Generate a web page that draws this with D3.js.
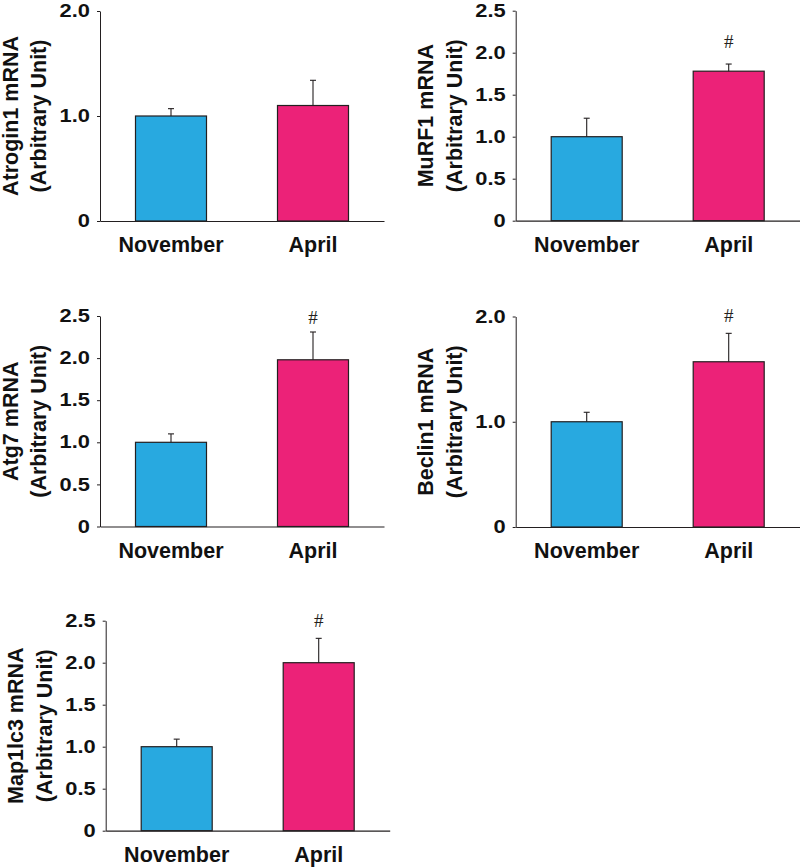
<!DOCTYPE html>
<html>
<head>
<meta charset="utf-8">
<script src="https://cdn.jsdelivr.net/npm/d3@7"></script>
<style>
  html, body { margin: 0; padding: 0; background: #fff; }
  svg { display: block; }
</style>
</head>
<body>
<svg id="chart" width="800" height="867"></svg>
<script>
// ---------- data ----------
const genes = ["Atrogin1 mRNA", "MuRF1 mRNA", "Atg7 mRNA", "Beclin1 mRNA", "Map1lc3 mRNA"];
const months = ["November", "April"];
const novemberMean = [1.00, 1.00, 1.00, 1.00, 1.00];
const novemberSE   = [0.07, 0.22, 0.10, 0.09, 0.09];
const aprilMean    = [1.10, 1.78, 1.98, 1.57, 2.00];
const aprilSE      = [0.24, 0.085, 0.33, 0.27, 0.29];
const yMax         = [2.0, 2.5, 2.5, 2.0, 2.5];
const yTicks = [
  [0, 1.0, 2.0],
  [0, 0.5, 1.0, 1.5, 2.0, 2.5],
  [0, 0.5, 1.0, 1.5, 2.0, 2.5],
  [0, 1.0, 2.0],
  [0, 0.5, 1.0, 1.5, 2.0, 2.5]
];
const sigMark  = ["", "#", "#", "#", "#"];
const sigLevel = [null, 2.05, 2.41, 1.95, 2.43];
const yAxisSub = "(Arbitrary Unit)";

// ---------- layout ----------
const layout = [
  { x: 100,   top: 11,    h: 210 },
  { x: 515.7, top: 10.7,  h: 210 },
  { x: 100,   top: 316,   h: 210.5 },
  { x: 515.7, top: 316.5, h: 210.5 },
  { x: 105.7, top: 620.7, h: 210 }
];
const plotW = 284;
const colors = ["#28a9e0", "#ec2278"];
const edge = "#231f20";
const sans = "'Liberation Sans', Arial, Helvetica, sans-serif";
const serif = "'Liberation Serif', 'Times New Roman', serif";

const svg = d3.select("#chart");

genes.forEach((gene, i) => {
  const L = layout[i];
  const g = svg.append("g").attr("transform", `translate(${L.x},${L.top})`);

  const x = d3.scaleBand().domain(months).range([0, plotW])
    .paddingInner(0.5).paddingOuter(0.25);
  const y = d3.scaleLinear().domain([0, yMax[i]]).range([L.h, 0]);

  const rows = [
    { m: months[0], v: novemberMean[i], e: novemberSE[i], c: colors[0] },
    { m: months[1], v: aprilMean[i],    e: aprilSE[i],    c: colors[1] }
  ];

  // bars
  g.selectAll("rect.bar").data(rows).join("rect")
    .attr("class", "bar")
    .attr("x", d => x(d.m))
    .attr("width", x.bandwidth())
    .attr("y", d => y(d.v))
    .attr("height", d => y(0) - y(d.v))
    .attr("fill", d => d.c)
    .attr("stroke", edge)
    .attr("stroke-width", 1.2);

  // error bars
  const cx = d => x(d.m) + x.bandwidth() / 2;
  g.selectAll("line.err").data(rows).join("line")
    .attr("class", "err")
    .attr("x1", cx).attr("x2", cx)
    .attr("y1", d => y(d.v)).attr("y2", d => y(d.v + d.e))
    .attr("stroke", edge).attr("stroke-width", 1.1);
  g.selectAll("line.cap").data(rows).join("line")
    .attr("class", "cap")
    .attr("x1", d => cx(d) - 3).attr("x2", d => cx(d) + 3)
    .attr("y1", d => y(d.v + d.e)).attr("y2", d => y(d.v + d.e))
    .attr("stroke", edge).attr("stroke-width", 1.1);

  // significance marker
  if (sigMark[i]) {
    g.append("text")
      .attr("x", cx(rows[1]))
      .attr("y", y(sigLevel[i]))
      .attr("text-anchor", "middle")
      .attr("font-family", serif)
      .attr("font-size", 19)
      .attr("fill", "#231f20")
      .text(sigMark[i]);
  }

  // y axis
  const yAxis = d3.axisLeft(y)
    .tickValues(yTicks[i])
    .tickSize(3).tickSizeOuter(0).tickPadding(7)
    .tickFormat(v => v === 0 ? "0" : d3.format(".1f")(v));
  const ya = g.append("g").call(yAxis);
  ya.select(".domain").attr("stroke", edge).attr("stroke-width", 1);
  ya.selectAll(".tick line").attr("stroke", edge).attr("stroke-width", 1);
  ya.selectAll(".tick text")
    .attr("font-family", sans).attr("font-weight", "bold")
    .attr("font-size", 17.5).attr("fill", "#111")
    .attr("x", -10 / 1.25)
    .attr("transform", "scale(1.25,1)");

  // x axis (baseline + labels)
  const xAxis = d3.axisBottom(x).tickSize(0).tickSizeOuter(0).tickPadding(16);
  const xa = g.append("g").attr("transform", `translate(0,${L.h})`).call(xAxis);
  xa.select(".domain").attr("stroke", edge).attr("stroke-width", 1.2);
  xa.selectAll(".tick text")
    .attr("font-family", sans).attr("font-weight", "bold")
    .attr("font-size", 21.5).attr("fill", "#111");

  // y title (two lines)
  const t = g.append("text")
    .attr("transform", `translate(-82.5,${L.h / 2}) rotate(-90)`)
    .attr("text-anchor", "middle")
    .attr("font-family", sans).attr("font-weight", "bold")
    .attr("font-size", 21.5).attr("fill", "#111");
  t.append("tspan").attr("x", 0).attr("dy", 0).text(gene);
  t.append("tspan").attr("x", 0).attr("dy", 28.5).text(yAxisSub);
});
</script>
</body>
</html>
